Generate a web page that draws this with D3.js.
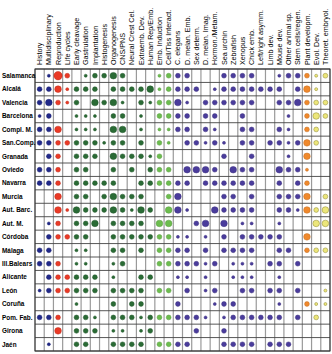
<!DOCTYPE html>
<html>
<head>
<meta charset="utf-8">
<script src="https://d3js.org/d3.v7.min.js"></script>
<style>
  body { margin: 0; background: #fff; }
  text { font-family: "Liberation Sans", Arial, sans-serif; fill: #000; }
</style>
</head>
<body>
<svg width="332" height="354"></svg>
<script>
// topics (columns)
const topics = ["History", "Multidisciplinary", "Reproduction", "Life cycles", "Early cleavage",
  "Gastrulation", "Implantation", "Histogenesis", "Organogenesis", "CNS/PNS", "Neural Crest Cel.",
  "Extraemb. Dev.", "Human Rep/Emb.", "Emb. Induction", "Cell/Tiss Interact.", "C. elegans",
  "D. melan. Emb.", "Sex determ.", "D. melan. Imag.", "Hormon./Metam.", "Sea urchin", "Zebrafish",
  "Xenopus", "Chick emb.", "Left/right asymm.", "Limb dev.", "Mouse dev.", "Other animal sp.",
  "Stem cells/regen.", "Plant developm.", "Evol. Dev.", "Theoret. embryol."];

// colour group of each topic
const topicGroup = ["gen", "gen", "rep", "rep", "emb", "emb", "emb", "emb", "emb", "emb", "emb",
  "emb", "emb", "ind", "ind", "mod", "mod", "mod", "mod", "mod", "mod", "mod", "mod", "mod", "mod",
  "mod", "mod", "mod", "mod", "plant", "evo", "evo"];

// universities (rows)
const universities = ["Salamanca", "Alcalá", "Valencia", "Barcelona", "Compl. M.", "San.Comp.",
  "Granada", "Oviedo", "Navarra", "Murcia", "Aut. Barc.", "Aut. M.", "Córdoba", "Málaga",
  "Ill.Balears", "Alicante", "León", "Coruña", "Pom. Fab.", "Girona", "Jaén"];

// weight of each topic per university (0 = not taught)
const weights = [
  [0,1,4,2, 0,1,2,2,3,2,0,0,0, 1,2, 2,2,0,0,0,2,2,2,2,0,0,1,2,2, 2,1,2],
  [2,2,3,1, 2,2,2,0,2,2,2,2,3, 1,2, 2,2,2,0,1,2,2,2,2,2,2,2,0,2, 3,1,0],
  [2,3,2,1, 2,0,3,2,3,1,0,2,1, 2,2, 3,1,0,2,2,2,2,2,2,0,0,2,2,3, 2,2,2],
  [1,2,0,0, 1,1,1,0,2,2,0,1,0, 2,2, 2,2,0,2,2,0,0,2,0,0,0,0,1,0, 2,3,2],
  [2,2,3,0, 1,1,1,0,3,3,0,1,0, 1,1, 2,2,0,2,1,0,0,2,2,0,0,2,1,0, 2,2,0],
  [2,2,2,2, 2,2,2,1,2,2,0,2,0, 2,1, 0,2,2,1,2,1,0,2,2,0,2,2,1,2, 3,2,0],
  [0,2,2,0, 2,2,2,0,3,2,2,2,1, 2,0, 0,0,0,0,0,2,0,0,2,0,0,0,1,0, 3,0,0],
  [2,2,2,0, 2,2,0,0,2,0,2,0,2, 2,2, 0,3,3,3,2,0,3,2,2,0,0,3,2,2, 1,0,0],
  [2,2,2,0, 2,2,2,2,2,0,0,2,2, 2,2, 2,2,0,2,2,2,2,2,2,0,0,2,0,2, 2,0,0],
  [0,0,3,0, 2,2,0,2,3,2,2,2,0, 0,2, 3,0,0,0,0,2,2,0,2,0,0,2,2,2, 3,0,2],
  [0,0,3,1, 3,2,2,2,3,2,1,3,2, 0,3, 3,1,0,0,3,2,2,2,2,0,0,2,2,1, 3,2,3],
  [0,1,2,0, 2,2,3,0,2,2,2,2,0, 3,3, 0,0,2,3,0,3,0,1,1,0,0,1,0,0, 0,3,3],
  [0,2,2,2, 2,2,0,0,2,2,2,2,2, 2,2, 1,1,0,1,0,2,0,2,2,2,2,2,0,0, 3,0,0],
  [2,2,0,0, 1,1,0,0,2,2,0,2,0, 2,2, 2,2,0,2,0,2,2,2,2,0,0,2,2,0, 2,2,2],
  [2,2,2,0, 1,1,0,0,1,2,0,0,0, 2,2, 2,2,2,1,2,0,1,1,1,0,2,2,0,2, 0,0,0],
  [0,2,2,2, 2,2,2,0,1,0,0,2,2, 0,0, 1,1,0,1,0,0,1,1,1,0,0,1,0,0, 0,0,0],
  [1,2,2,2, 2,2,2,0,2,2,2,2,0, 2,2, 0,2,0,1,2,0,0,2,2,0,2,2,0,2, 0,0,1],
  [0,0,0,0, 1,0,0,0,2,0,2,2,0, 0,0, 2,0,0,0,1,2,2,0,0,0,0,1,0,0, 2,1,1],
  [2,2,2,0, 2,2,1,0,2,2,2,1,2, 2,2, 2,2,2,1,0,1,2,2,2,2,2,2,0,2, 0,2,0],
  [0,0,3,0, 2,2,2,0,1,1,0,1,2, 0,0, 0,0,2,0,0,2,0,0,0,0,0,0,0,0, 0,0,0],
  [0,1,0,0, 2,2,0,0,2,2,2,2,0, 2,2, 2,2,0,0,0,2,2,2,2,0,2,2,2,0, 0,0,0]
];

const groups = ["gen", "rep", "emb", "ind", "mod", "plant", "evo"];
const groupColors = ["#20288a", "#ea3a26", "#2a6b35", "#6cbd4e", "#4a3c9c", "#f0892c", "#ece67a"];

const svg = d3.select("svg");

const x = d3.scaleBand().domain(topics).range([35, 330]);
const y = d3.scaleBand().domain(universities).range([69, 351]);
const color = d3.scaleOrdinal().domain(groups).range(groupColors);
const r = d3.scaleLinear().domain([1, 4]).range([1.5, 4.2]);

// vertical grid lines
svg.append("g")
  .selectAll("line").data(d3.range(topics.length + 1)).enter().append("line")
    .attr("x1", i => 35 + i * x.bandwidth())
    .attr("x2", i => 35 + i * x.bandwidth())
    .attr("y1", 69).attr("y2", 351)
    .attr("stroke", "#9a9a9a")
    .attr("stroke-width", 1.2);

// horizontal grid lines
svg.append("g")
  .selectAll("line").data(d3.range(universities.length + 1)).enter().append("line")
    .attr("x1", 35).attr("x2", 330)
    .attr("y1", i => 69 + i * y.bandwidth())
    .attr("y2", i => 69 + i * y.bandwidth())
    .attr("stroke", "#444")
    .attr("stroke-width", 0.9);

// outer frame
svg.append("rect")
  .attr("x", 35).attr("y", 69)
  .attr("width", 295).attr("height", 282)
  .attr("fill", "none")
  .attr("stroke", "#333")
  .attr("stroke-width", 1);

// column headers
svg.append("g")
  .selectAll("text").data(topics).enter().append("text")
    .attr("transform", d => "translate(" + (x(d) + x.bandwidth() / 2 + 2.6) + ",65) rotate(-90)")
    .attr("font-size", "7.2px")
    .text(d => d);

// row labels
svg.append("g")
  .selectAll("text").data(universities).enter().append("text")
    .attr("x", 2)
    .attr("y", d => y(d) + y.bandwidth() / 2 + 2.3)
    .attr("font-size", "6.4px")
    .attr("font-weight", "bold")
    .text(d => d);

// dots
const cells = [];
weights.forEach((row, i) => row.forEach((w, j) => {
  if (w > 0) cells.push({ uni: universities[i], topic: topics[j], group: topicGroup[j], w: w });
}));

svg.append("g")
  .selectAll("circle").data(cells).enter().append("circle")
    .attr("cx", d => x(d.topic) + x.bandwidth() / 2)
    .attr("cy", d => y(d.uni) + y.bandwidth() / 2)
    .attr("r", d => r(d.w))
    .attr("fill", d => color(d.group))
    .attr("stroke", d => d.group == "evo" ? "#8a8430" : d3.color(color(d.group)).darker(0.6))
    .attr("stroke-width", 0.5);
</script>
</body>
</html>
